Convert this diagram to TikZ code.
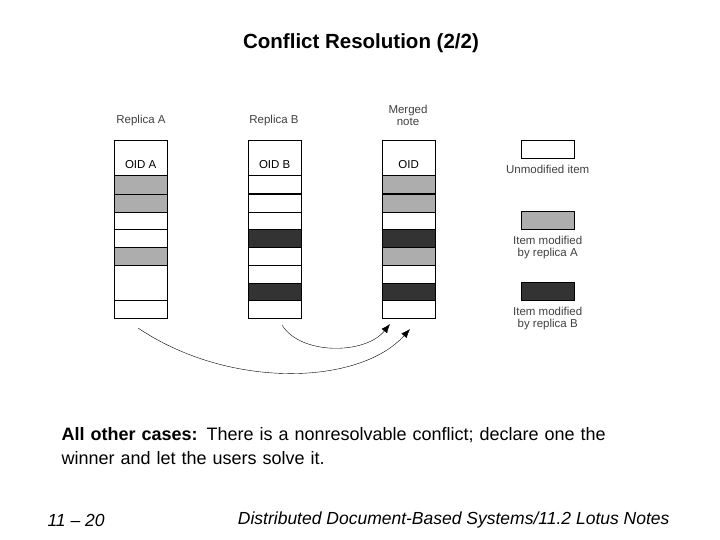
\documentclass[tikz,border=0pt]{standalone}
\usepackage{fontspec}
\setmainfont{Liberation Sans}
\usetikzlibrary{positioning,calc,arrows.meta}
\tikzset{%
  cell/.style={%
    draw=black,
    fill=white,
    minimum width=53pt,
    inner sep=0pt,
    anchor=north west%
  },
  amod/.style={%
    cell,
    fill=black!32
  },
  bmod/.style={%
    cell,
    fill=black!80
  },
  lbl/.style={%
    font=\fontsize{11.5}{12}\selectfont,
    text=black!75,
    align=center
  }
}
\begin{document}
\begin{tikzpicture}[x=1pt,y=-1pt]
  \useasboundingbox (0,0) rectangle (720,540);
  \node[font=\bfseries\fontsize{20.5}{24}\selectfont] (title) at (361,43) {Conflict Resolution (2/2)};

  % columns: x of left edge, then cells as top/height/style
  \foreach \col/\x/\hd in {a/114/OID A,b/248/OID B,m/382/OID} {
    \node[cell, minimum height=35pt, text depth=0pt, text height=22pt, font=\fontsize{11.5}{12}\selectfont] (\col0) at (\x,140) {\hd};
  }
  \foreach \y/\h/\s [count=\i] in {175/19/amod,194/18/amod,212/17/cell,229/18/cell,247/18/amod,265/35/cell,300/18/cell}
    \node[\s, minimum height=\h] (a\i) at (114,\y) {};
  \foreach \y/\s [count=\i] in {175/cell,194/cell,212/cell,229/bmod,247/cell,265/cell,283/bmod,300/cell}
    \node[\s, minimum height=18] (b\i) at (248,\y) {};
  \foreach \y/\s [count=\i] in {175/amod,194/amod,212/cell,229/bmod,247/amod,265/cell,283/bmod,300/cell}
    \node[\s, minimum height=18] (m\i) at (382,\y) {};

  \node[lbl, anchor=south] (ra) at (141,129) {Replica A};
  \node[lbl, anchor=south] (rb) at (274,129) {Replica B};
  \node[lbl, anchor=south, text width=60pt] (rm) at (408,129) {Merged\\note};

  % legend
  \node[cell, minimum height=18] (lu) at (521,140) {};
  \node[lbl, below=3pt of lu] (tu) {Unmodified item};
  \node[amod, minimum height=18] (la) at (521,211) {};
  \node[lbl, below=3pt of la] (ta) {Item modified\\by replica A};
  \node[bmod, minimum height=18] (lb) at (521,282) {};
  \node[lbl, below=3pt of lb] (tb) {Item modified\\by replica B};

  \coordinate (fa) at (138,328);
  \coordinate (fb) at (282,325);
  \coordinate (ta1) at (410,329);
  \coordinate (tb1) at (390,324);
  \draw[-{Latex[length=9pt,width=7pt]}, thin] (fa) .. controls (230,390) and (360,385) .. (ta1);
  \draw[-{Latex[length=9pt,width=7pt]}, thin] (fb) .. controls (300,355) and (365,355) .. (tb1);

  \node[anchor=north west, text width=600pt, align=left, font=\fontsize{18}{24}\selectfont] (txt) at (58,424)
    {\textbf{All other cases:} There is a nonresolvable conflict; declare one the\\winner and let the users solve it.};
  \node[anchor=west, font=\itshape\fontsize{17.5}{20}\selectfont] (pg) at (44,520) {11 -- 20};
  \node[anchor=east, font=\itshape\fontsize{17.5}{20}\selectfont] (ft) at (673,520) {Distributed Document-Based Systems/11.2 Lotus Notes};
\end{tikzpicture}
\end{document}
